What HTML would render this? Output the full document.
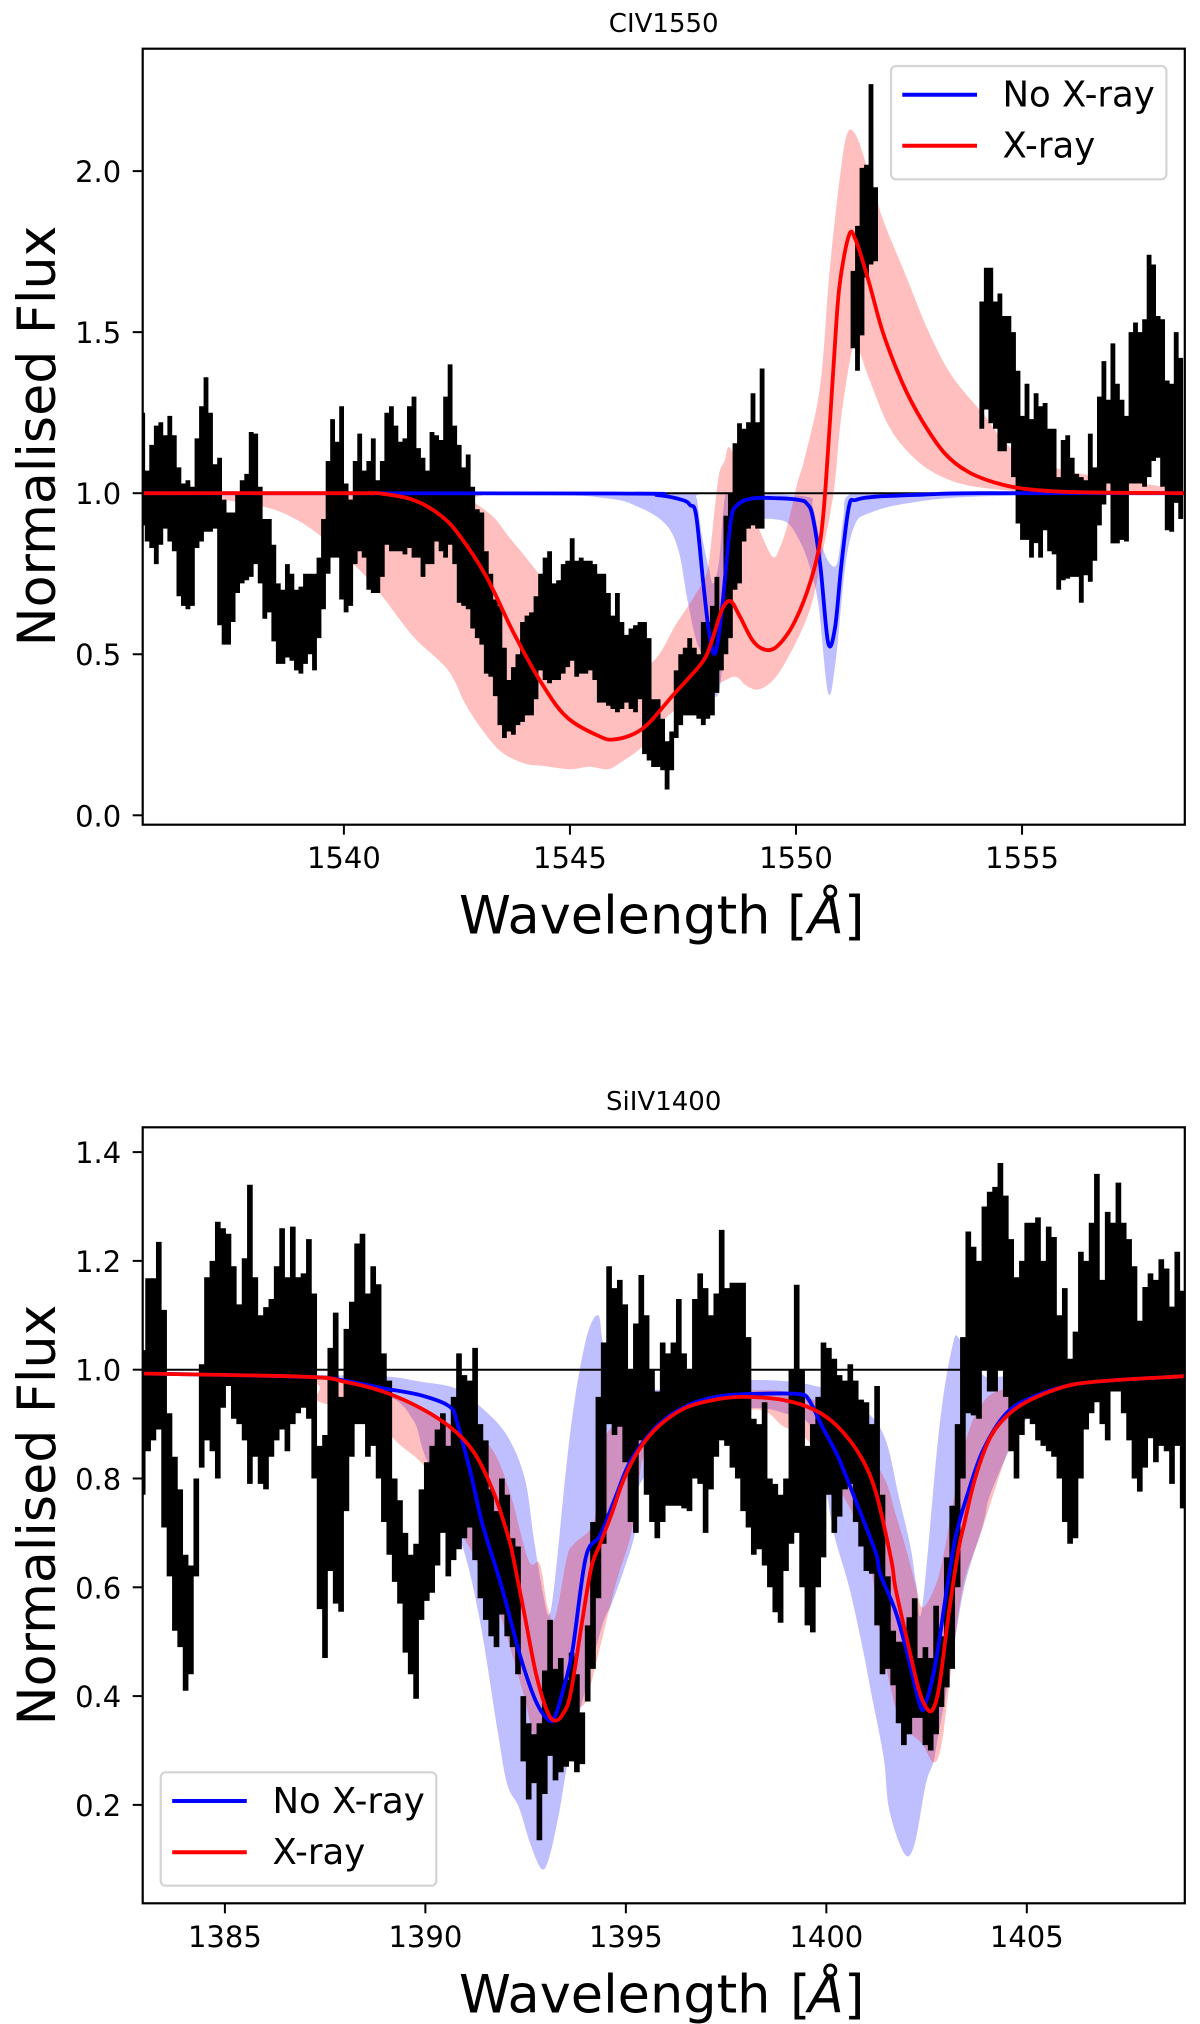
<!DOCTYPE html>
<html lang="en">
<head>
<meta charset="utf-8">
<title>Normalised flux of CIV1550 and SiIV1400</title>
<style>
html,body{margin:0;padding:0;background:#fff}
svg{display:block}
text{font-family:"DejaVu Sans","Liberation Sans",sans-serif;fill:#000}
</style>
</head>
<body>
<svg id="fig" xmlns="http://www.w3.org/2000/svg" width="1200" height="2024" viewBox="0 0 1200 2024">
<rect x="0" y="0" width="1200" height="2024" fill="#fff"/>
<defs>
<clipPath id="clipCiv"><rect x="142.7" y="48.7" width="1042.1" height="776"/></clipPath>
<clipPath id="clipSi"><rect x="142.7" y="1127.3" width="1042.1" height="776"/></clipPath>
</defs>

<g id="panelCiv">
<text x="663.7" y="32" font-size="26" text-anchor="middle">CIV1550</text>
<g id="civMarks" clip-path="url(#clipCiv)"></g>
<g id="civAxes"></g>
<rect x="142.7" y="48.7" width="1042.1" height="776" fill="none" stroke="#000" stroke-width="2.2"/>
<text transform="translate(55,436) rotate(-90)" font-size="52.2" text-anchor="middle">Normalised Flux</text>
<text y="933.7" font-size="52.5"><tspan x="459">Wavelength</tspan><tspan x="787">[</tspan><tspan x="808" font-style="italic">Å</tspan><tspan x="844">]</tspan></text>
<g>
<rect x="891" y="66" width="275.4" height="113.3" rx="5" fill="#fff" fill-opacity="0.8" stroke="#d4d4d4" stroke-width="2.2"/>
<line x1="902.3" x2="977" y1="94.7" y2="94.7" stroke="#0000ff" stroke-width="4"/>
<text x="1002.5" y="106.7" font-size="35.5">No X-ray</text>
<line x1="902.3" x2="977" y1="145.7" y2="145.7" stroke="#ff0000" stroke-width="4"/>
<text x="1002.5" y="157.7" font-size="35.5">X-ray</text>
</g>
</g>

<g id="panelSi">
<text x="663.7" y="1110" font-size="26" text-anchor="middle">SiIV1400</text>
<g id="siMarks" clip-path="url(#clipSi)"></g>
<g id="siAxes"></g>
<rect x="142.7" y="1127.3" width="1042.1" height="776" fill="none" stroke="#000" stroke-width="2.2"/>
<text transform="translate(55,1515) rotate(-90)" font-size="52.2" text-anchor="middle">Normalised Flux</text>
<text y="2012.3" font-size="52.5"><tspan x="459">Wavelength</tspan><tspan x="790">[</tspan><tspan x="808" font-style="italic">Å</tspan><tspan x="844">]</tspan></text>
<g>
<rect x="160.7" y="1772.3" width="275.6" height="113.4" rx="5" fill="#fff" fill-opacity="0.8" stroke="#d4d4d4" stroke-width="2.2"/>
<line x1="172.2" x2="246.8" y1="1801" y2="1801" stroke="#0000ff" stroke-width="4"/>
<text x="272.5" y="1812.8" font-size="35.5">No X-ray</text>
<line x1="172.2" x2="246.8" y1="1852.3" y2="1852.3" stroke="#ff0000" stroke-width="4"/>
<text x="272.5" y="1864" font-size="35.5">X-ray</text>
</g>
</g>
</svg>

<script>
// ---------- CIV1550 data (wavelength in Angstrom, normalised flux) ----------
const civXTicks = [1540, 1545, 1550, 1555];
const civXLabels = ['1540', '1545', '1550', '1555'];
const civYTicks = [0, 0.5, 1, 1.5, 2];
const civYLabels = ['0.0', '0.5', '1.0', '1.5', '2.0'];

const civSpecStep = 0.1;
const civSpecStart1 = 1535.55;
const civSpecHigh1 = [1.25,1.07,1.15,1.21,1.22,1.18,1.24,1.18,1.08,1.03,1.04,1.02,1.17,1.27,1.36,1.25,1.09,1.11,0.98,0.94,0.94,1.00,1.04,1.06,1.19,1.185,1.02,0.92,0.92,0.84,0.72,0.70,0.78,0.75,0.70,0.71,0.75,0.75,0.75,0.80,0.92,1.10,1.23,1.16,1.27,1.03,0.98,1.10,1.185,1.07,1.10,1.17,1.04,1.10,1.25,1.27,1.21,1.16,1.17,1.27,1.30,1.14,1.11,1.07,1.19,1.18,1.165,1.30,1.40,1.21,1.15,1.08,1.12,1.02,0.95,0.94,0.82,0.75,0.67,0.65,0.52,0.42,0.46,0.50,0.60,0.62,0.63,0.68,0.75,0.80,0.82,0.72,0.73,0.78,0.79,0.86,0.79,0.80,0.79,0.79,0.78,0.75,0.75,0.69,0.62,0.69,0.60,0.56,0.58,0.59,0.60,0.60,0.55,0.36,0.36,0.30,0.23,0.26,0.45,0.50,0.52,0.55,0.52,0.50,0.60,0.60,0.65,0.74,0.63,0.93,1.00,1.155,1.217,1.20,1.22,1.31,1.22,1.387];
const civSpecLow1 = [0.90,0.85,0.83,0.78,0.84,0.89,0.85,0.82,0.68,0.65,0.64,0.65,0.83,0.85,0.88,0.88,0.89,0.59,0.53,0.53,0.60,0.69,0.72,0.73,0.74,0.78,0.72,0.61,0.63,0.54,0.47,0.47,0.49,0.48,0.45,0.44,0.47,0.50,0.45,0.55,0.64,0.75,0.80,0.80,0.67,0.63,0.65,0.78,0.82,0.80,0.70,0.69,0.69,0.74,0.84,0.82,0.82,0.82,0.81,0.83,0.80,0.80,0.74,0.78,0.78,0.85,0.82,0.80,0.84,0.78,0.66,0.65,0.64,0.58,0.55,0.53,0.44,0.43,0.37,0.28,0.24,0.26,0.25,0.28,0.29,0.31,0.31,0.36,0.45,0.42,0.41,0.42,0.42,0.44,0.46,0.48,0.43,0.44,0.44,0.45,0.42,0.35,0.35,0.34,0.33,0.32,0.33,0.35,0.33,0.32,0.36,0.19,0.17,0.15,0.15,0.14,0.08,0.14,0.24,0.28,0.31,0.31,0.31,0.30,0.28,0.30,0.31,0.38,0.45,0.50,0.55,0.70,0.72,0.85,0.89,0.90,0.89,0.89];

const civSpecStart2 = 1551.26;
const civSpecHigh2 = [1.69,1.83,2.01,2.02,2.27,1.95];
const civSpecLow2 = [1.45,1.38,1.49,1.67,1.71,1.72];

const civSpecStart3 = 1554.11;
const civSpecHigh3 = [1.595,1.70,1.70,1.595,1.62,1.55,1.55,1.50,1.38,1.24,1.34,1.23,1.31,1.27,1.28,1.20,1.20,1.05,1.165,1.18,1.11,1.06,1.05,1.04,1.185,1.08,1.30,1.41,1.29,1.465,1.34,1.29,1.24,1.50,1.53,1.50,1.54,1.74,1.71,1.55,1.54,1.35,1.34,1.50,1.42];
const civSpecLow3 = [1.20,1.26,1.217,1.20,1.13,1.13,1.155,1.05,0.906,0.855,0.855,0.80,0.845,0.80,0.885,0.82,0.81,0.70,0.73,0.735,0.74,0.74,0.66,0.745,0.725,0.79,0.90,0.965,1.03,0.844,0.844,0.855,0.85,1.03,1.03,1.03,1.02,1.05,1.10,1.11,1.02,0.885,0.88,0.97,0.92];

const civBlueLine = [[1535.55,1],[1546,0.999],[1546.94,0.994],[1547.49,0.979],[1547.66,0.963],[1547.79,0.932],[1547.95,0.72],[1548.08,0.565],[1548.21,0.503],[1548.36,0.637],[1548.55,0.906],[1548.7,0.963],[1549.06,0.984],[1549.65,0.984],[1550.07,0.979],[1550.24,0.968],[1550.37,0.927],[1550.54,0.772],[1550.71,0.536],[1550.86,0.58],[1551,0.772],[1551.17,0.958],[1551.32,0.979],[1551.76,0.989],[1552.87,0.996],[1554.1,1],[1558.6,1]];
const civRedLine = [[1535.55,1],[1540.2,1],[1540.86,0.998],[1541.54,0.979],[1542.13,0.932],[1542.55,0.87],[1543.15,0.741],[1543.74,0.57],[1544.33,0.42],[1544.92,0.306],[1545.67,0.244],[1546,0.236],[1546.43,0.254],[1546.77,0.29],[1547.28,0.373],[1547.91,0.472],[1548.12,0.534],[1548.36,0.637],[1548.55,0.665],[1548.76,0.617],[1549.06,0.539],[1549.37,0.513],[1549.65,0.534],[1549.99,0.606],[1550.33,0.73],[1550.54,0.855],[1550.66,1.03],[1550.83,1.393],[1550.96,1.641],[1551.17,1.8],[1551.32,1.786],[1551.6,1.662],[1551.93,1.496],[1552.36,1.34],[1552.78,1.227],[1553.29,1.124],[1553.8,1.067],[1554.47,1.03],[1555.15,1.012],[1556.25,1.003],[1558.6,1]];

const civBlueBandUpper = [[1535.55,1],[1547.6,1],[1547.79,0.99],[1547.91,0.875],[1548.08,0.761],[1548.17,0.72],[1548.3,0.79],[1548.43,0.99],[1548.6,1],[1550.2,0.99],[1550.37,0.96],[1550.54,0.85],[1550.75,0.782],[1550.92,0.787],[1551.05,0.927],[1551.17,0.994],[1552,1],[1558.6,1]];
const civBlueBandLower = [[1535.55,1],[1544,0.995],[1545.8,0.984],[1546.5,0.958],[1547.1,0.906],[1547.4,0.823],[1547.6,0.668],[1547.79,0.544],[1547.95,0.49],[1548.21,0.368],[1548.38,0.472],[1548.59,0.927],[1548.76,0.97],[1549,0.93],[1549.18,0.92],[1549.48,0.92],[1549.82,0.907],[1550.07,0.855],[1550.28,0.782],[1550.49,0.66],[1550.71,0.38],[1550.88,0.482],[1551.09,0.772],[1551.3,0.901],[1551.6,0.937],[1552.44,0.968],[1554.1,0.99],[1558.6,1]];
const civRedBandUpper = [[1535.55,1],[1542.5,1],[1542.8,0.979],[1543.3,0.927],[1543.65,0.865],[1544.25,0.761],[1545,0.62],[1546,0.52],[1546.77,0.472],[1547.36,0.596],[1547.79,0.689],[1548.04,0.761],[1548.2,0.95],[1548.3,1.06],[1548.42,1.1],[1548.55,1.14],[1548.9,1],[1549.15,0.9],[1549.48,0.803],[1549.65,0.834],[1549.82,0.906],[1550.03,1.03],[1550.2,1.113],[1550.54,1.34],[1550.75,1.7],[1551,2.013],[1551.15,2.122],[1551.34,2.107],[1551.6,2],[1551.93,1.848],[1552.44,1.672],[1552.95,1.496],[1553.46,1.362],[1554.13,1.248],[1554.81,1.134],[1555.91,1.072],[1557.69,1.03],[1558.28,1.015],[1558.6,1]];
const civRedBandLower = [[1535.55,1],[1537,0.995],[1537.39,0.979],[1538.23,0.958],[1538.83,0.927],[1539.46,0.87],[1540.35,0.761],[1540.86,0.678],[1541.54,0.554],[1542.3,0.451],[1542.68,0.347],[1543.06,0.265],[1543.48,0.197],[1543.99,0.161],[1544.42,0.153],[1545,0.143],[1545.43,0.151],[1545.83,0.143],[1546.09,0.161],[1546.6,0.213],[1547.15,0.306],[1547.8,0.37],[1548.38,0.415],[1548.67,0.43],[1548.89,0.404],[1549.18,0.391],[1549.56,0.43],[1549.99,0.534],[1550.33,0.648],[1550.54,0.782],[1550.83,1],[1551,1.237],[1551.26,1.455],[1551.4,1.44],[1551.6,1.362],[1552.02,1.217],[1552.44,1.134],[1552.95,1.072],[1553.63,1.03],[1554.56,1.01],[1555.8,1],[1558.6,1]];

// ---------- SiIV1400 data ----------
const siXTicks = [1385, 1390, 1395, 1400, 1405];
const siXLabels = ['1385', '1390', '1395', '1400', '1405'];
const siYTicks = [0.2, 0.4, 0.6, 0.8, 1, 1.2, 1.4];
const siYLabels = ['0.2', '0.4', '0.6', '0.8', '1.0', '1.2', '1.4'];

const siSpecStep = 0.1337;
const siSpecStart = 1382.95;
const siSpecHigh = [1.036,1.168,1.168,1.235,1.11,0.92,0.84,0.78,0.66,0.64,0.80,1.01,1.17,1.2,1.272,1.26,1.25,1.19,1.12,1.205,1.34,1.17,1.10,1.115,1.13,1.19,1.26,1.17,1.263,1.17,1.177,1.24,1.14,0.86,0.88,1.04,1.105,0.95,1.075,1.125,1.232,1.25,1.14,1.19,1.157,1.03,0.98,0.80,0.76,0.70,0.66,0.68,0.78,0.83,0.86,0.89,0.92,0.86,0.95,1.03,0.99,0.98,1.04,0.90,0.87,0.78,0.74,0.80,0.77,0.69,0.675,0.40,0.35,0.33,0.35,0.447,0.54,0.45,0.47,0.43,0.48,0.44,0.37,0.53,0.72,0.95,1.05,1.19,1.15,1.165,1.12,1.0,1.085,1.174,1.10,1.0,0.96,1.05,1.03,1.05,1.13,1.03,1.0,1.13,1.177,1.15,1.10,1.14,1.257,1.15,1.16,1.16,1.16,1.06,0.91,0.90,0.94,0.80,0.79,0.77,0.80,1.0,1.156,1.0,0.86,0.90,0.95,1.05,1.04,1.02,0.99,0.98,1.01,0.98,0.945,0.94,0.90,0.97,0.77,0.62,0.52,0.50,0.50,0.545,0.58,0.47,0.49,0.47,0.566,0.51,0.655,0.75,0.90,1.06,1.254,1.226,1.20,1.30,1.327,1.336,1.38,1.32,1.24,1.17,1.20,1.27,1.27,1.28,1.20,1.263,1.244,1.10,1.15,1.02,1.07,1.217,1.20,1.27,1.36,1.165,1.29,1.27,1.344,1.27,1.24,1.19,1.09,1.152,1.177,1.165,1.203,1.186,1.116,1.217,1.145];
const siSpecLow = [0.77,0.85,0.87,0.89,0.71,0.62,0.52,0.49,0.41,0.44,0.62,0.82,0.87,0.85,0.80,0.93,0.97,0.91,0.90,0.87,0.79,0.84,0.79,0.78,0.84,0.87,0.89,0.85,0.90,0.92,0.93,0.91,0.80,0.56,0.47,0.63,0.57,0.555,0.74,0.84,0.90,0.90,0.84,0.86,0.80,0.72,0.66,0.61,0.57,0.48,0.44,0.395,0.54,0.575,0.59,0.64,0.70,0.62,0.65,0.67,0.69,0.71,0.65,0.58,0.54,0.51,0.49,0.55,0.51,0.49,0.44,0.28,0.21,0.24,0.135,0.22,0.29,0.245,0.26,0.27,0.28,0.26,0.275,0.39,0.45,0.58,0.68,0.90,0.88,0.895,0.83,0.72,0.70,0.87,0.77,0.72,0.69,0.72,0.75,0.75,0.75,0.745,0.74,0.80,0.79,0.70,0.78,0.84,0.87,0.86,0.82,0.80,0.74,0.71,0.66,0.67,0.64,0.60,0.554,0.535,0.63,0.68,0.70,0.60,0.53,0.517,0.60,0.655,0.77,0.70,0.73,0.78,0.79,0.72,0.675,0.63,0.625,0.53,0.44,0.45,0.42,0.35,0.31,0.33,0.36,0.36,0.31,0.30,0.33,0.38,0.416,0.45,0.60,0.80,0.92,0.916,0.91,1.0,0.96,0.96,1.0,0.95,0.85,0.80,0.88,0.91,0.90,0.87,0.86,0.85,0.84,0.80,0.72,0.68,0.69,0.80,0.89,0.92,0.94,0.90,0.87,0.96,0.96,0.92,0.87,0.80,0.776,0.82,0.874,0.83,0.86,0.85,0.79,0.86,0.745];

const siBlueLine = [[1382.95,0.993],[1387.03,0.987],[1387.98,0.98],[1388.94,0.966],[1389.89,0.953],[1390.61,0.932],[1390.8,0.9],[1391.13,0.81],[1391.42,0.717],[1391.8,0.626],[1392,0.575],[1392.38,0.47],[1392.76,0.39],[1393.09,0.355],[1393.24,0.364],[1393.43,0.41],[1393.67,0.484],[1394,0.655],[1394.36,0.696],[1394.75,0.767],[1395.13,0.834],[1395.8,0.898],[1396.56,0.935],[1397.42,0.952],[1398.47,0.956],[1399.33,0.955],[1399.57,0.944],[1399.9,0.895],[1400.29,0.84],[1400.76,0.754],[1401.24,0.662],[1401.34,0.625],[1401.72,0.557],[1402,0.484],[1402.34,0.382],[1402.48,0.388],[1402.72,0.459],[1403,0.594],[1403.24,0.698],[1403.53,0.773],[1403.91,0.852],[1404.49,0.92],[1405.16,0.95],[1406.11,0.972],[1407.26,0.981],[1408.93,0.988]];
const siRedLine = [[1382.95,0.993],[1387.03,0.987],[1387.98,0.978],[1388.94,0.96],[1389.89,0.929],[1390.66,0.892],[1391.23,0.846],[1391.71,0.773],[1392.09,0.687],[1392.19,0.655],[1392.47,0.551],[1392.76,0.441],[1393.05,0.37],[1393.24,0.355],[1393.43,0.367],[1393.62,0.404],[1393.9,0.533],[1394.14,0.637],[1394.36,0.68],[1394.65,0.736],[1394.94,0.797],[1395.32,0.852],[1395.8,0.895],[1396.46,0.929],[1397.23,0.945],[1397.99,0.95],[1398.95,0.944],[1399.71,0.926],[1400.29,0.895],[1400.86,0.84],[1401.24,0.773],[1401.62,0.65],[1401.72,0.6],[1402,0.508],[1402.29,0.416],[1402.48,0.38],[1402.65,0.375],[1402.82,0.42],[1403.05,0.55],[1403.29,0.667],[1403.44,0.717],[1403.72,0.803],[1404.1,0.877],[1404.58,0.92],[1405.16,0.947],[1406.11,0.972],[1407.26,0.981],[1408.93,0.988]];

const siBlueBandUpper = [[1382.95,0.993],[1387.03,0.99],[1388.94,0.988],[1389.89,0.978],[1390.75,0.966],[1391.33,0.935],[1392,0.883],[1392.47,0.803],[1392.71,0.687],[1392.95,0.582],[1393.09,0.55],[1393.24,0.62],[1393.62,0.889],[1394,1.054],[1394.31,1.1],[1394.46,1.042],[1394.9,0.99],[1395.8,0.963],[1397,0.975],[1398.09,0.981],[1399.14,0.978],[1399.8,0.969],[1400.38,0.957],[1401.05,0.92],[1401.48,0.871],[1401.81,0.766],[1402.1,0.674],[1402.24,0.606],[1402.39,0.563],[1402.82,0.895],[1403.15,1.045],[1403.34,1.055],[1403.91,0.99],[1404.49,0.987],[1405.5,0.97],[1406.8,0.975],[1408.93,0.988]];
const siBlueBandLower = [[1382.95,0.993],[1387.03,0.985],[1389,0.954],[1389.7,0.907],[1390,0.84],[1390.85,0.692],[1391.33,0.55],[1391.8,0.336],[1392.04,0.238],[1392.33,0.196],[1392.62,0.128],[1392.9,0.082],[1393.09,0.104],[1393.33,0.183],[1393.62,0.3],[1394.36,0.517],[1394.65,0.57],[1394.94,0.63],[1395.22,0.698],[1395.32,0.785],[1396,0.84],[1397,0.9],[1398.09,0.929],[1398.95,0.92],[1399.62,0.895],[1399.95,0.797],[1400.19,0.698],[1400.57,0.6],[1400.9,0.49],[1401.14,0.398],[1401.43,0.287],[1401.57,0.19],[1401.95,0.11],[1402.2,0.128],[1402.48,0.238],[1402.67,0.278],[1402.77,0.318],[1403.1,0.453],[1403.44,0.6],[1403.91,0.716],[1404.1,0.773],[1404.77,0.883],[1405.25,0.926],[1406.3,0.966],[1408.93,0.988]];
const siRedBandUpper = [[1382.95,0.993],[1387.03,0.985],[1388.94,0.962],[1390.17,0.92],[1390.93,0.885],[1391.61,0.859],[1392.09,0.779],[1392.57,0.65],[1392.85,0.643],[1393.05,0.563],[1393.24,0.545],[1393.53,0.655],[1393.71,0.68],[1394.2,0.72],[1394.36,0.83],[1394.6,0.89],[1395.75,0.956],[1398.09,0.962],[1398.95,0.96],[1399.71,0.944],[1400.33,0.92],[1401.38,0.81],[1401.72,0.736],[1402,0.668],[1402.24,0.6],[1402.39,0.563],[1402.67,0.594],[1402.91,0.655],[1403.44,0.858],[1403.91,0.94],[1404.49,0.966],[1405.58,0.984],[1406.8,0.99],[1408.93,0.988]];
const siRedBandLower = [[1382.95,0.993],[1387,0.98],[1387.28,0.944],[1387.89,0.932],[1388.56,0.92],[1389.32,0.865],[1390.04,0.816],[1390.85,0.705],[1391.23,0.655],[1391.8,0.563],[1392.19,0.47],[1392.47,0.398],[1392.81,0.312],[1393.43,0.324],[1393.71,0.373],[1394,0.39],[1394.29,0.47],[1394.75,0.606],[1395.13,0.698],[1395.32,0.797],[1395.75,0.86],[1398.09,0.926],[1398.95,0.895],[1399.53,0.87],[1400.57,0.748],[1401.05,0.661],[1401.34,0.514],[1401.72,0.38],[1402.05,0.336],[1402.39,0.312],[1402.67,0.278],[1402.86,0.306],[1403.05,0.41],[1403.39,0.594],[1403.82,0.692],[1404.87,0.914],[1405.58,0.941],[1406.77,0.966],[1408.93,0.988]];

// ---------- drawing ----------
const SVGNS = 'http://www.w3.org/2000/svg';
function linear(d0, d1, r0, r1) {
  return function (v) { return r0 + (v - d0) * (r1 - r0) / (d1 - d0); };
}
function make(parent, tag) {
  const el = document.createElementNS(SVGNS, tag);
  parent.appendChild(el);
  return el;
}
// Smooth curve through the given data pairs (Catmull-Rom rendered as Beziers).
function smoothSegments(pairs, xs, ys) {
  const p = pairs.map(function (q) { return [xs(q[0]), ys(q[1])]; });
  let d = '';
  for (let i = 0; i < p.length - 1; i++) {
    const a = p[Math.max(i - 1, 0)], b = p[i], c = p[i + 1], e = p[Math.min(i + 2, p.length - 1)];
    const c1x = b[0] + (c[0] - a[0]) / 6, c1y = b[1] + (c[1] - a[1]) / 6;
    const c2x = c[0] - (e[0] - b[0]) / 6, c2y = c[1] - (e[1] - b[1]) / 6;
    d += 'C' + c1x.toFixed(1) + ',' + c1y.toFixed(1) + ' ' + c2x.toFixed(1) + ',' + c2y.toFixed(1) + ' ' + c[0].toFixed(1) + ',' + c[1].toFixed(1);
  }
  return d;
}
function start(pairs, xs, ys) {
  return xs(pairs[0][0]).toFixed(1) + ',' + ys(pairs[0][1]).toFixed(1);
}
function drawBand(parent, upper, lower, color, xs, ys, name) {
  const rev = lower.slice().reverse();
  const el = make(parent, 'path');
  
  
  el.setAttribute('d', 'M' + start(upper, xs, ys) + smoothSegments(upper, xs, ys) + 'L' + start(rev, xs, ys) + smoothSegments(rev, xs, ys) + 'Z');
  el.setAttribute('fill', color);
  el.setAttribute('fill-opacity', '0.25');
}
function drawLine(parent, pairs, color, xs, ys, name) {
  const el = make(parent, 'path');
  
  
  el.setAttribute('d', 'M' + start(pairs, xs, ys) + smoothSegments(pairs, xs, ys));
  el.setAttribute('fill', 'none');
  el.setAttribute('stroke', color);
  el.setAttribute('stroke-width', '3.8');
  el.setAttribute('stroke-linejoin', 'round');
}
function drawUnity(parent, xs, ys, from, to, name) {
  const el = make(parent, 'line');
  
  
  el.setAttribute('x1', xs(from));
  el.setAttribute('x2', xs(to));
  el.setAttribute('y1', ys(1));
  el.setAttribute('y2', ys(1));
  el.setAttribute('stroke', '#000');
  el.setAttribute('stroke-width', '2');
}
function drawSpectrum(parent, begin, step, low, high, xs, ys, name) {
  let d = '';
  for (let i = 0; i < high.length; i++) {
    const x = xs(begin + i * step).toFixed(1);
    d += 'M' + x + ',' + ys(low[i]).toFixed(1) + 'L' + x + ',' + ys(high[i]).toFixed(1);
  }
  const el = make(parent, 'path');
  
  
  el.setAttribute('d', d);
  el.setAttribute('fill', 'none');
  el.setAttribute('stroke', '#000');
  el.setAttribute('stroke-width', (xs(begin + step) - xs(begin) + 0.3).toFixed(2));
}
function drawXTicks(parent, ticks, labels, xs, bottom, prefix) {
  ticks.forEach(function (t, i) {
    const tick = make(parent, 'line');
    
    
    tick.setAttribute('x1', xs(t));
    tick.setAttribute('x2', xs(t));
    tick.setAttribute('y1', bottom);
    tick.setAttribute('y2', bottom + 10);
    tick.setAttribute('stroke', '#000');
    tick.setAttribute('stroke-width', '2');
    const label = make(parent, 'text');
    
    
    label.setAttribute('x', xs(t));
    label.setAttribute('y', bottom + 43.5);
    label.setAttribute('font-size', '29');
    label.setAttribute('text-anchor', 'middle');
    label.textContent = labels[i];
  });
}
function drawYTicks(parent, ticks, labels, ys, left, prefix) {
  ticks.forEach(function (t, i) {
    const tick = make(parent, 'line');
    
    
    tick.setAttribute('x1', left - 10);
    tick.setAttribute('x2', left);
    tick.setAttribute('y1', ys(t));
    tick.setAttribute('y2', ys(t));
    tick.setAttribute('stroke', '#000');
    tick.setAttribute('stroke-width', '2');
    const label = make(parent, 'text');
    
    
    label.setAttribute('x', left - 21.5);
    label.setAttribute('y', ys(t) + 11);
    label.setAttribute('font-size', '29');
    label.setAttribute('text-anchor', 'end');
    label.textContent = labels[i];
  });
}

const xCiv = linear(1535.55, 1558.6, 142.7, 1184.8);
const yCiv = linear(-0.0292, 2.38, 824.7, 48.7);
const xSi = linear(1382.95, 1408.94, 142.7, 1184.8);
const ySi = linear(0.0191, 1.4456, 1903.3, 1127.3);

const civMarks = document.getElementById('civMarks');
drawBand(civMarks, civBlueBandUpper, civBlueBandLower, '#0000ff', xCiv, yCiv, 'civ-no-xray-band');
drawBand(civMarks, civRedBandUpper, civRedBandLower, '#ff0000', xCiv, yCiv, 'civ-xray-band');
drawUnity(civMarks, xCiv, yCiv, 1535.55, 1558.6, 'civ-unity-line');
drawSpectrum(civMarks, civSpecStart1, civSpecStep, civSpecLow1, civSpecHigh1, xCiv, yCiv, 'civ-spectrum-segment-1');
drawSpectrum(civMarks, civSpecStart2, civSpecStep, civSpecLow2, civSpecHigh2, xCiv, yCiv, 'civ-spectrum-segment-2');
drawSpectrum(civMarks, civSpecStart3, civSpecStep, civSpecLow3, civSpecHigh3, xCiv, yCiv, 'civ-spectrum-segment-3');
drawLine(civMarks, civBlueLine, '#0000ff', xCiv, yCiv, 'civ-no-xray-line');
drawLine(civMarks, civRedLine, '#ff0000', xCiv, yCiv, 'civ-xray-line');
const civAxes = document.getElementById('civAxes');
drawXTicks(civAxes, civXTicks, civXLabels, xCiv, 824.7, 'civ');
drawYTicks(civAxes, civYTicks, civYLabels, yCiv, 142.7, 'civ');

const siMarks = document.getElementById('siMarks');
drawBand(siMarks, siBlueBandUpper, siBlueBandLower, '#0000ff', xSi, ySi, 'siiv-no-xray-band');
drawBand(siMarks, siRedBandUpper, siRedBandLower, '#ff0000', xSi, ySi, 'siiv-xray-band');
drawUnity(siMarks, xSi, ySi, 1382.95, 1408.94, 'siiv-unity-line');
drawSpectrum(siMarks, siSpecStart, siSpecStep, siSpecLow, siSpecHigh, xSi, ySi, 'siiv-spectrum');
drawLine(siMarks, siBlueLine, '#0000ff', xSi, ySi, 'siiv-no-xray-line');
drawLine(siMarks, siRedLine, '#ff0000', xSi, ySi, 'siiv-xray-line');
const siAxes = document.getElementById('siAxes');
drawXTicks(siAxes, siXTicks, siXLabels, xSi, 1903.3, 'siiv');
drawYTicks(siAxes, siYTicks, siYLabels, ySi, 142.7, 'siiv');
</script>
</body>
</html>
